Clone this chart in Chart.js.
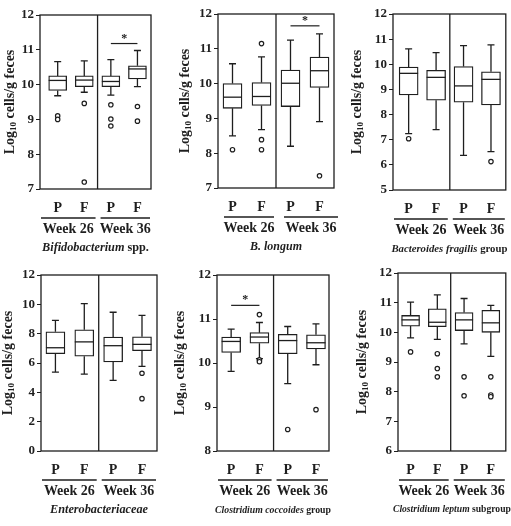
<!DOCTYPE html>
<html>
<head>
<meta charset="utf-8">
<script src="https://cdn.jsdelivr.net/npm/chart.js@4.4.1/dist/chart.umd.min.js"></script>
<style>
  html, body { margin: 0; padding: 0; background: #fff; }
  #wrap { position: relative; width: 511px; height: 526px; overflow: hidden; }
  #wrap canvas { position: absolute; }
</style>
</head>
<body>
<div id="wrap"></div>
<script>
const groupLabels = ['P', 'F', 'P', 'F'];
const weekLabels = ['Week 26', 'Week 36'];

// each row: [lower whisker, Q1, median, Q3, upper whisker]
const bifidoBox = [[9.68, 9.83, 10.12, 10.25, 10.66], [9.78, 9.94, 10.13, 10.25, 10.68], [9.70, 9.94, 10.09, 10.25, 10.72], [9.94, 10.16, 10.45, 10.54, 10.98]];
const bifidoOut = [[9.10, 9.00], [9.46, 7.20], [9.42, 9.01, 8.81], [9.37, 8.95]];
const bifidoSig = [3, 4, 11.18];

const longumBox = [[8.50, 9.29, 9.61, 10.00, 10.57], [8.68, 9.37, 9.63, 10.03, 10.77], [8.20, 9.34, 10.01, 10.39, 11.25], [8.91, 9.89, 10.37, 10.76, 11.43]];
const longumOut = [[8.10], [11.15, 8.39, 8.10], [], [7.35]];
const longumSig = [3, 4, 11.66];

const fragilisBox = [[7.24, 8.78, 9.64, 9.89, 10.61], [7.40, 8.57, 9.48, 9.76, 10.46], [6.38, 8.49, 9.14, 9.91, 10.74], [6.53, 8.38, 9.40, 9.70, 10.77]];
const fragilisOut = [[7.04], [], [], [6.13]];

const enteroBox = [[5.38, 6.64, 7.04, 8.13, 8.91], [5.24, 6.46, 7.44, 8.27, 10.05], [4.82, 6.07, 7.18, 7.77, 9.46], [5.77, 6.84, 7.27, 7.79, 9.25]];
const enteroOut = [[], [], [], [5.30, 3.57]];

const coccBox = [[9.81, 10.24, 10.49, 10.59, 10.77], [10.10, 10.45, 10.59, 10.69, 10.92], [9.53, 10.21, 10.51, 10.65, 10.83], [9.96, 10.32, 10.46, 10.64, 10.89]];
const coccOut = [[], [11.10, 10.07, 10.03], [8.49], [8.94]];
const coccSig = [1, 2, 11.31];

const leptumBox = [[9.81, 10.21, 10.42, 10.57, 11.02], [9.76, 10.19, 10.34, 10.79, 11.26], [9.61, 10.06, 10.42, 10.67, 11.14], [9.19, 10.00, 10.32, 10.74, 10.91]];
const leptumOut = [[9.34], [9.28, 8.78, 8.50], [8.50, 7.86], [8.50, 7.89, 7.83]];

const ink = '#1e1e1e';
const serif = '"Liberation Serif", "Times New Roman", serif';

// cell = canvas box on the page, plot = wanted chart area [left, top, right, bottom]
const panels = [
  { box: bifidoBox, out: bifidoOut, sig: bifidoSig, name: [['Bifidobacterium', true], [' spp.', false]], nameW: 107,
    yMin: 7, yMax: 12, step: 1, cell: [0, 0, 170, 260], plot: [40, 15, 151, 189], xMin: 0.335, xMax: 4.51, bw: 18, titleX: 10 },
  { box: longumBox, out: longumOut, sig: longumSig, name: [['B. longum', true]], nameW: 52,
    yMin: 7, yMax: 12, step: 1, cell: [170, 0, 170, 260], plot: [218, 14, 334, 188], xMin: 0.5, xMax: 4.5, bw: 19, titleX: 15, lineShift: 5 },
  { box: fragilisBox, out: fragilisOut, sig: null, name: [['Bacteroides fragilis', true], [' group', false]], nameW: 116,
    yMin: 5, yMax: 12, step: 1, cell: [340, 0, 171, 260], plot: [393, 14, 506, 190], xMin: 0.43, xMax: 4.54, bw: 19, titleX: 17 },
  { box: enteroBox, out: enteroOut, sig: null, name: [['Enterobacteriaceae', true]], nameW: 98,
    yMin: 0, yMax: 12, step: 2, cell: [0, 260, 170, 266], plot: [41, 275, 157, 451], xMin: 0.5, xMax: 4.52, bw: 19, titleX: 8 },
  { box: coccBox, out: coccOut, sig: coccSig, name: [['Clostridium coccoides', true], [' group', false]], nameW: 116,
    yMin: 8, yMax: 12, step: 1, cell: [170, 260, 170, 266], plot: [217, 275, 329, 451], xMin: 0.5, xMax: 4.46, bw: 19, titleX: 10 },
  { box: leptumBox, out: leptumOut, sig: null, name: [['Clostridium leptum', true], [' subgroup', false]], nameW: 118,
    yMin: 6, yMax: 12, step: 1, cell: [340, 260, 171, 266], plot: [398, 273, 506, 451], xMin: 0.53, xMax: 4.56, bw: 18, titleX: 22 }
];

const boxDecor = {
  id: 'boxDecor',
  beforeDatasetsDraw(chart, args, o) {
    const { ctx, scales: { x, y } } = chart;
    ctx.save();
    ctx.strokeStyle = ink;
    ctx.lineWidth = 1.3;
    o.box.forEach((b, i) => {
      const px = x.getPixelForValue(i + 1);
      const lo = y.getPixelForValue(b[0]), hi = y.getPixelForValue(b[4]);
      ctx.beginPath();
      ctx.moveTo(px, lo); ctx.lineTo(px, y.getPixelForValue(b[1]));
      ctx.moveTo(px, hi); ctx.lineTo(px, y.getPixelForValue(b[3]));
      ctx.moveTo(px - 3.5, lo); ctx.lineTo(px + 3.5, lo);
      ctx.moveTo(px - 3.5, hi); ctx.lineTo(px + 3.5, hi);
      ctx.stroke();
    });
    ctx.restore();
  },
  afterDatasetsDraw(chart, args, o) {
    const { ctx, scales: { x, y } } = chart;
    ctx.save();
    ctx.strokeStyle = ink;
    ctx.lineWidth = 1.3;
    o.box.forEach((b, i) => {
      const px = x.getPixelForValue(i + 1);
      const m = y.getPixelForValue(b[2]);
      ctx.beginPath();
      ctx.moveTo(px - o.bw / 2, m); ctx.lineTo(px + o.bw / 2, m);
      ctx.stroke();
    });
    ctx.restore();
  },
  afterDraw(chart, args, o) {
    const { ctx, chartArea: a, scales: { x, y } } = chart;
    ctx.save();
    ctx.strokeStyle = ink;
    ctx.fillStyle = ink;

    // frame and week divider
    ctx.lineWidth = 1.3;
    ctx.strokeRect(a.left, a.top, a.right - a.left, a.bottom - a.top);
    const div = x.getPixelForValue(2.5);
    ctx.beginPath();
    ctx.moveTo(div, a.top); ctx.lineTo(div, a.bottom);
    ctx.stroke();

    // significance bar
    if (o.sig) {
      const sy = y.getPixelForValue(o.sig[2]);
      const x1 = x.getPixelForValue(o.sig[0]), x2 = x.getPixelForValue(o.sig[1]);
      ctx.lineWidth = 1.2;
      ctx.beginPath();
      ctx.moveTo(x1, sy); ctx.lineTo(x2, sy);
      ctx.stroke();
      ctx.font = 'bold 12px ' + serif;
      ctx.textAlign = 'center';
      ctx.textBaseline = 'middle';
      ctx.fillText('*', (x1 + x2) / 2, sy - 5);
    }

    // week group lines and labels
    const sh = o.lineShift || 0;
    const groups = [[a.left + 1 + sh, div - 2], [div + 3 + sh, a.right - 1 + sh]];
    const ly = a.bottom + 29;
    ctx.lineWidth = 1.5;
    ctx.font = 'bold 14px ' + serif;
    ctx.textAlign = 'center';
    ctx.textBaseline = 'middle';
    groups.forEach((g, i) => {
      ctx.beginPath();
      ctx.moveTo(g[0], ly); ctx.lineTo(g[1], ly);
      ctx.stroke();
      ctx.fillText(weekLabels[i], (g[0] + g[1]) / 2, ly + 11);
    });

    // species name, italic part + plain part, scaled to its width in the figure
    const fontFor = (it, s) => (it ? 'italic ' : '') + 'bold ' + s + 'px ' + serif;
    let w = 0;
    o.name.forEach(([t, it]) => { ctx.font = fontFor(it, 10); w += ctx.measureText(t).width; });
    const size = 10 * o.nameW / w;
    let total = 0;
    o.name.forEach(([t, it]) => { ctx.font = fontFor(it, size); total += ctx.measureText(t).width; });
    let nx = (a.left + a.right) / 2 - total / 2;
    ctx.textAlign = 'left';
    o.name.forEach(([t, it]) => {
      ctx.font = fontFor(it, size);
      ctx.fillText(t, nx, a.bottom + 59);
      nx += ctx.measureText(t).width;
    });

    // y axis title with subscript
    ctx.translate(o.titleX, (a.top + a.bottom) / 2);
    ctx.rotate(-Math.PI / 2);
    const parts = [['Log', 14, 0], ['10', 9, 4], [' cells/g feces', 14, 0]];
    let tw = 0;
    parts.forEach(([t, s]) => { ctx.font = 'bold ' + s + 'px ' + serif; tw += ctx.measureText(t).width; });
    let tx = -tw / 2;
    ctx.textAlign = 'left';
    ctx.textBaseline = 'middle';
    parts.forEach(([t, s, dy]) => {
      ctx.font = 'bold ' + s + 'px ' + serif;
      ctx.fillText(t, tx, dy);
      tx += ctx.measureText(t).width;
    });
    ctx.restore();
  }
};

Chart.defaults.font.family = serif;
Chart.defaults.font.weight = 'bold';
Chart.defaults.color = ink;

const wrap = document.getElementById('wrap');
panels.forEach(p => {
  const [cx, cy, cw, ch] = p.cell;
  const [pl, pt, pr, pb] = p.plot;
  const canvas = document.createElement('canvas');
  canvas.width = cw;
  canvas.height = ch;
  canvas.style.left = cx + 'px';
  canvas.style.top = cy + 'px';
  canvas.style.width = cw + 'px';
  canvas.style.height = ch + 'px';
  wrap.appendChild(canvas);

  new Chart(canvas, {
    type: 'bar',
    data: {
      datasets: [
        {
          type: 'bar',
          data: p.box.map((b, i) => ({ x: i + 1, y: [b[1], b[3]] })),
          backgroundColor: '#fff',
          borderColor: ink,
          borderWidth: 1.3,
          borderSkipped: false,
          barThickness: p.bw,
          order: 2
        },
        {
          type: 'scatter',
          data: p.out.flatMap((vals, i) => vals.map(v => ({ x: i + 1, y: v }))),
          pointRadius: 2.2,
          pointBackgroundColor: '#fff',
          pointBorderColor: ink,
          pointBorderWidth: 1.2,
          order: 1
        }
      ]
    },
    options: {
      responsive: false,
      animation: false,
      devicePixelRatio: 1,
      layout: { padding: { top: pt - cy, right: cx + cw - pr, left: 0, bottom: 0 } },
      plugins: {
        legend: { display: false },
        tooltip: { enabled: false },
        boxDecor: { box: p.box, sig: p.sig, name: p.name, nameW: p.nameW, bw: p.bw, titleX: p.titleX, lineShift: p.lineShift }
      },
      scales: {
        x: {
          type: 'linear',
          offset: false,
          min: p.xMin,
          max: p.xMax,
          afterFit: s => { s.height = cy + ch - pb; },
          afterBuildTicks: s => { s.ticks = groupLabels.map((_, i) => ({ value: i + 1 })); },
          ticks: { callback: v => groupLabels[v - 1], padding: 3, autoSkip: false, maxRotation: 0, font: { size: 14, weight: 'bold' } },
          grid: { display: false },
          border: { display: false }
        },
        y: {
          min: p.yMin,
          max: p.yMax,
          afterFit: s => { s.width = pl - cx; },
          ticks: { stepSize: p.step, padding: 2, font: { size: 13, weight: 'bold' } },
          grid: { drawOnChartArea: false, tickLength: 4, color: ink, lineWidth: 1 },
          border: { display: false }
        }
      }
    },
    plugins: [boxDecor]
  });
});
</script>
</body>
</html>
